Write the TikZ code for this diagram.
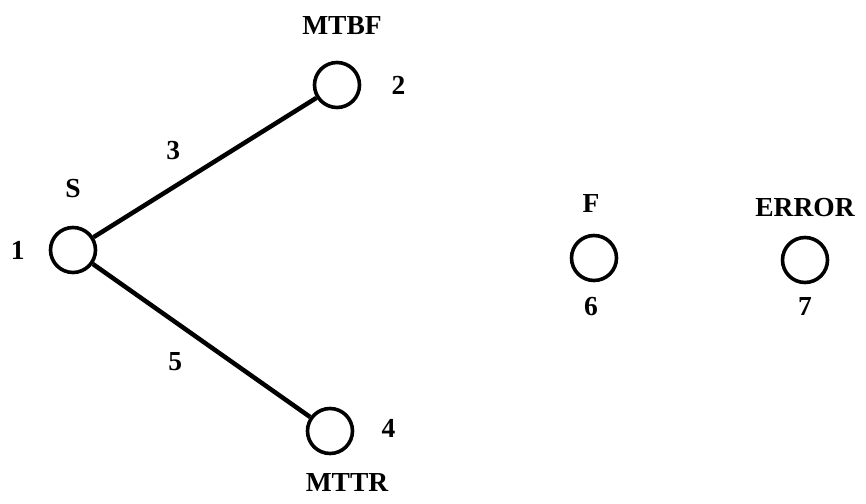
\documentclass[tikz,border=0pt]{standalone}
\usepackage{fontspec}
\setmainfont{Liberation Serif}
\usetikzlibrary{positioning}

\begin{document}
\begin{tikzpicture}[
  x=1pt, y=-1pt,
  state/.style={circle, draw, line width=3.6pt, minimum size=45pt, inner sep=0pt},
  lbl/.style={inner sep=0pt, font=\fontsize{27.5}{30}\selectfont\bfseries},
  link/.style={line width=4.5pt}
]
  \useasboundingbox (0,0) rectangle (866,503);
  % states
  \node[state] (s1) at (73,250) {};
  \node[state] (s2) at (337,85) {};
  \node[state] (s4) at (330,431) {};
  \node[state] (s6) at (594,258) {};
  \node[state] (s7) at (805,260) {};
  % names and numbers
  \node[lbl, above=28pt of s1] (nameS) {S};
  \node[lbl, left=24pt of s1] (num1) {1};
  \node[lbl, above=26pt of s2, xshift=5pt] (nameMTBF) {MTBF};
  \node[lbl, right=30pt of s2] (num2) {2};
  \node[lbl, right=27pt of s4, yshift=3pt] (num4) {4};
  \node[lbl, below=18pt of s4, xshift=17pt] (nameMTTR) {MTTR};
  \node[lbl, above=21pt of s6, xshift=-3pt] (nameF) {F};
  \node[lbl, below=15pt of s6, xshift=-3pt] (num6) {6};
  \node[lbl, above=19pt of s7] (nameERROR) {ERROR};
  \node[lbl, below=13pt of s7] (num7) {7};
  % links
  \draw[link] (s1) -- (s2);
  \draw[link] (s1) -- (s4);
  \node[lbl, above right=73pt and 76pt of s1] (num3) {3};
  \node[lbl, below right=85pt and 78pt of s1] (num5) {5};
\end{tikzpicture}
\end{document}
